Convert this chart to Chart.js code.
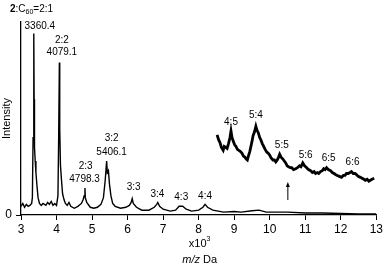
<!DOCTYPE html>
<html>
<head>
<meta charset="utf-8">
<script src="https://cdn.jsdelivr.net/npm/chart.js@4"></script>
<style>
  html, body { margin: 0; padding: 0; background: #fff; }
  #wrap { width: 385px; height: 264px; }
</style>
</head>
<body>
<div id="wrap"><canvas id="grafico-espectro"></canvas></div>
<script>
// main spectrum, m/z in units of 10^3 Da, relative intensity
const MZ_MAIN = [3.00, 3.05, 3.10, 3.15, 3.20, 3.25, 3.30, 3.32, 3.34, 3.36, 3.37, 3.38, 3.40, 3.42, 3.45, 3.48,
    3.52, 3.57, 3.62, 3.70, 3.75, 3.80, 3.85, 3.90, 3.95, 4.00, 4.04, 4.06, 4.08, 4.09, 4.11, 4.14, 4.17, 4.21,
    4.25, 4.30, 4.35, 4.40, 4.50, 4.60, 4.70, 4.75, 4.78, 4.80, 4.81, 4.85, 4.95, 5.05, 5.15, 5.25,
    5.32, 5.37, 5.41, 5.43, 5.46, 5.49, 5.53, 5.58, 5.65, 5.80, 5.95, 6.05, 6.10, 6.13, 6.16, 6.25,
    6.40, 6.60, 6.75, 6.82, 6.85, 6.90, 7.00, 7.20, 7.35, 7.45, 7.55, 7.65, 7.80, 8.00, 8.12, 8.18,
    8.25, 8.40, 8.70, 9.00, 9.20, 9.50, 9.70, 9.90, 10.5, 11.0, 11.5, 12.0, 12.5, 13.0];
const INT_MAIN = [4.5, 6, 4, 5.5, 4.5, 5, 6, 9, 40, 94, 60, 35, 28, 22, 15, 9,
    6, 5, 6, 5, 6.5, 5.5, 7, 5, 6, 5, 10, 40, 79, 45, 26, 18, 11, 8,
    6, 5, 6.5, 4.5, 3.5, 4.5, 6, 8, 10, 14, 9, 6.5, 4, 3.5, 4, 5.5,
    9, 18, 28, 22, 23, 16, 10, 6, 4.5, 3.5, 4, 5, 6.5, 8.5, 6, 4,
    2.5, 2.5, 4, 5.5, 6.5, 4.5, 3, 2, 2.5, 4.5, 4.5, 3, 2, 2.5, 4, 5.5,
    4, 2.5, 1.5, 1.8, 1.5, 2.2, 2.5, 1.5, 1.5, 1, 1, 0.8, 0.6, 0.5];

// expanded high-mass region (inset)
const MZ_INSET = [8.52, 8.56, 8.60, 8.64, 8.69, 8.72, 8.76, 8.80, 8.84, 8.88, 8.91, 8.94, 8.97, 9.01, 9.05, 9.09,
    9.13, 9.17, 9.22, 9.26, 9.30, 9.34, 9.37, 9.40, 9.44, 9.47, 9.50, 9.53, 9.57, 9.61, 9.64, 9.68,
    9.72, 9.75, 9.79, 9.83, 9.87, 9.92, 9.96, 10.00, 10.04, 10.09, 10.13, 10.17, 10.21, 10.25, 10.28, 10.32,
    10.37, 10.41, 10.45, 10.49, 10.53, 10.58, 10.62, 10.67, 10.73, 10.78, 10.84, 10.88, 10.93, 10.98, 11.04, 11.09,
    11.15, 11.20, 11.25, 11.29, 11.34, 11.38, 11.43, 11.48, 11.52, 11.56, 11.60, 11.65, 11.71, 11.76, 11.81, 11.85,
    11.90, 11.96, 12.02, 12.07, 12.12, 12.16, 12.21, 12.26, 12.30, 12.35, 12.40, 12.44, 12.49, 12.55, 12.60, 12.65,
    12.69, 12.74, 12.79, 12.83, 12.88, 12.94];
const INT_INSET = [41.5, 39, 37.5, 35, 33.5, 35.5, 35, 34.5, 37, 40, 43.5, 40, 38.5, 36.5, 35.5, 34,
    33.5, 33, 32, 30.5, 30, 29, 28.5, 30.5, 33, 35.5, 38, 41, 43, 46, 44, 42.5,
    40, 39, 37, 35.5, 34, 32.5, 32, 31, 29.5, 28.5, 28.5, 27.5, 28.5, 30, 31.5, 30,
    29, 28, 27, 25.5, 25, 24.5, 24.5, 23.5, 24, 24.5, 25.5, 25, 27, 25.5, 24.5, 23.5,
    23, 22, 22.5, 21.5, 22, 21.5, 22.5, 23, 24, 23.5, 24.5, 23.5, 23, 22, 21.5, 21,
    20.5, 20, 19.5, 20.5, 20.5, 21.5, 21.5, 22, 22.5, 21.5, 21.5, 21, 20, 19.5, 19, 18.5,
    18, 18.5, 17.5, 18, 18.5, 19];

// peak labels (text, m/z, intensity where the text sits)
const PEAK_TEXT = ['3360.4', '2:2', '4079.1', '2:3', '4798.3', '3:2', '5406.1', '3:3', '3:4', '4:3', '4:4',
    '4:5', '5:4', '5:5', '5:6', '6:5', '6:6'];
const PEAK_MZ = [3.53, 4.15, 4.15, 4.82, 4.79, 5.55, 5.55, 6.17, 6.84, 7.51, 8.18,
    8.91, 9.61, 10.34, 11.01, 11.66, 12.33];
const PEAK_INT = [98, 90.7, 84.5, 25.4, 18.7, 39.9, 32.6, 14.5, 10.9, 9.3, 9.8,
    48.2, 51.8, 36.3, 31.1, 29.5, 27.5];

// arrow marker under the 5:5 region
const ARROW_MZ = 10.51;
const ARROW_INT = [7.8, 17.1];

const X_TICKS = [3, 4, 5, 6, 7, 8, 9, 10, 11, 12, 13];

const FONT = '"Liberation Sans", Arial, Helvetica, sans-serif';

function pares(xs, ys) {
    return xs.map(function(x, i) { return { x: x, y: ys[i] }; });
}

const anotacoes = {
    id: 'anotacoes',
    afterDraw: function(chart) {
        var ctx = chart.ctx;
        var sx = chart.scales.x;
        var sy = chart.scales.y;
        var area = chart.chartArea;
        ctx.save();
        ctx.fillStyle = '#000';
        ctx.strokeStyle = '#000';
        ctx.textAlign = 'center';
        ctx.textBaseline = 'middle';
        ctx.font = '10px ' + FONT;
        PEAK_TEXT.forEach(function(t, i) {
            ctx.fillText(t, sx.getPixelForValue(PEAK_MZ[i]), sy.getPixelForValue(PEAK_INT[i]));
        });

        // 2:C60=2:1 with bold 2 and subscript 60
        ctx.textAlign = 'left';
        var px = 10, py = 9;
        ctx.font = 'bold 10px ' + FONT;
        ctx.fillText('2', px, py);
        px += ctx.measureText('2').width;
        ctx.font = '10px ' + FONT;
        ctx.fillText(':C', px, py);
        px += ctx.measureText(':C').width;
        ctx.font = '7px ' + FONT;
        ctx.fillText('60', px, py + 3);
        px += ctx.measureText('60').width;
        ctx.font = '10px ' + FONT;
        ctx.fillText('=2:1', px, py);

        // arrow
        var ax = sx.getPixelForValue(ARROW_MZ);
        var y0 = sy.getPixelForValue(ARROW_INT[0]);
        var y1 = sy.getPixelForValue(ARROW_INT[1]);
        ctx.lineWidth = 1;
        ctx.beginPath();
        ctx.moveTo(ax, y0);
        ctx.lineTo(ax, y1 + 4);
        ctx.stroke();
        ctx.beginPath();
        ctx.moveTo(ax, y1);
        ctx.lineTo(ax - 2, y1 + 5);
        ctx.lineTo(ax + 2, y1 + 5);
        ctx.closePath();
        ctx.fill();

        // x10^3 and m/z Da below the axis
        var cx = (area.left + area.right) / 2 + 1;
        ctx.font = '11px ' + FONT;
        var w1 = ctx.measureText('x10').width;
        ctx.font = '7px ' + FONT;
        var w2 = ctx.measureText('3').width;
        var sxp = cx - (w1 + w2) / 2;
        ctx.font = '11px ' + FONT;
        ctx.fillText('x10', sxp, area.bottom + 29);
        ctx.font = '7px ' + FONT;
        ctx.fillText('3', sxp + w1, area.bottom + 24);

        ctx.font = 'italic 11px ' + FONT;
        var w3 = ctx.measureText('m/z').width;
        ctx.font = '11px ' + FONT;
        var w4 = ctx.measureText(' Da').width;
        var mx = cx - (w3 + w4) / 2;
        ctx.font = 'italic 11px ' + FONT;
        ctx.fillText('m/z', mx, area.bottom + 45);
        ctx.font = '11px ' + FONT;
        ctx.fillText(' Da', mx + w3, area.bottom + 45);
        ctx.restore();
    }
};

new Chart(document.getElementById('grafico-espectro'), {
    type: 'line',
    data: {
        datasets: [
            {
                data: pares(MZ_MAIN, INT_MAIN),
                borderColor: '#000',
                borderWidth: 1.4,
                pointRadius: 0,
                tension: 0,
                fill: false
            },
            {
                data: pares(MZ_INSET, INT_INSET),
                borderColor: '#000',
                borderWidth: 2.8,
                pointRadius: 0,
                tension: 0,
                fill: false
            }
        ]
    },
    options: {
        responsive: true,
        maintainAspectRatio: false,
        animation: false,
        events: [],
        layout: { padding: { top: 22, right: 7, left: 0, bottom: 0 } },
        plugins: { legend: { display: false }, tooltip: { enabled: false } },
        scales: {
            x: {
                type: 'linear',
                min: 3,
                max: 13,
                afterBuildTicks: function(s) { s.ticks = X_TICKS.map(function(v) { return { value: v }; }); },
                afterFit: function(s) { s.height = 49; },
                grid: { drawOnChartArea: false, tickLength: 5, color: '#000', tickWidth: 1 },
                border: { color: '#000', width: 1.3 },
                ticks: { color: '#000', padding: 2, maxRotation: 0, font: { size: 12, family: FONT } }
            },
            y: {
                min: 0,
                max: 100,
                afterBuildTicks: function(s) { s.ticks = [{ value: 0 }]; },
                afterFit: function(s) { s.width = 21; },
                grid: { drawOnChartArea: false, tickLength: 5, color: '#000', tickWidth: 1 },
                border: { color: '#000', width: 1.3 },
                ticks: { color: '#000', padding: 4, font: { size: 12, family: FONT } },
                title: { display: true, text: 'Intensity', color: '#000', padding: 0, font: { size: 11, family: FONT } }
            }
        }
    },
    plugins: [anotacoes]
});
</script>
</body>
</html>
